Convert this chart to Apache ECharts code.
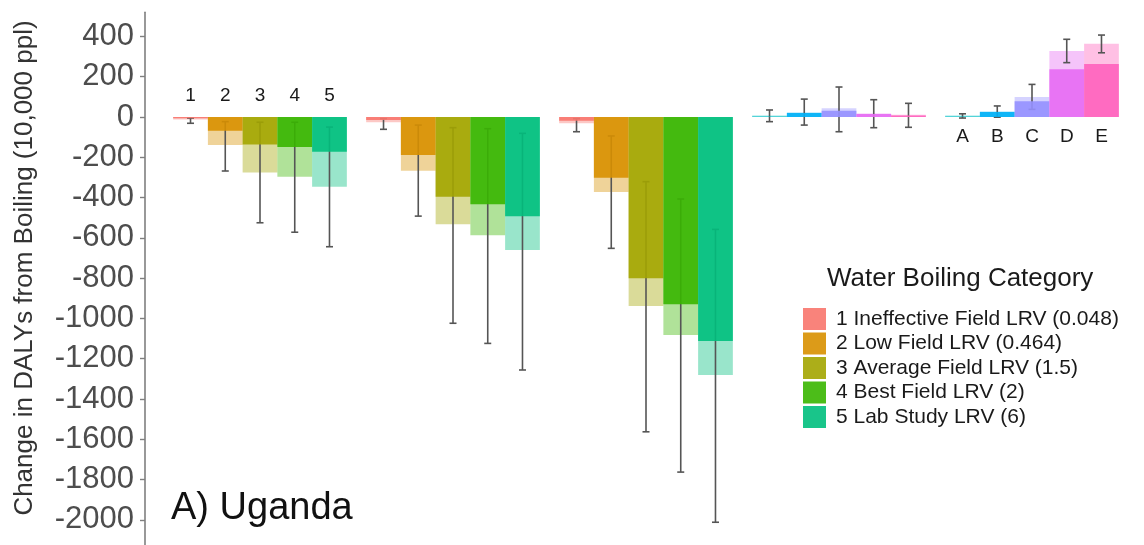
<!DOCTYPE html>
<html><head><meta charset="utf-8">
<script src="https://cdn.jsdelivr.net/npm/echarts@6/dist/echarts.min.js"></script>
<style>html,body{margin:0;padding:0;background:#fff}#c{width:1144px;height:545px}</style>
</head><body><div id="c"></div>
<script>
// ---- data ----
const scenarios = ['Scenario 1', 'Scenario 2', 'Scenario 3', 'Scenario 4', 'Scenario 5'];
const categoryNames = [
  '1 Ineffective Field LRV (0.048)',
  '2 Low Field LRV (0.464)',
  '3 Average Field LRV (1.5)',
  '4 Best Field LRV (2)',
  '5 Lab Study LRV (6)'
];
const topLabels = ['1', '2', '3', '4', '5'];
const bottomLabels = ['A', 'B', 'C', 'D', 'E'];
const yTicks = [-2000, -1800, -1600, -1400, -1200, -1000, -800, -600, -400, -200, 0, 200, 400];

// per bar position (1..5 / A..E), values for the 5 scenarios
const dark1 = [-6, -15, -18, 2, 2];
const light1 = [-12, -26, -31, 8, 8];
const errLo1 = [-31, -61, -73, -23, -5];
const errHi1 = [-5, -8, -8, 35, 16];

const dark2 = [-68, -189, -301, 20, 25];
const light2 = [-139, -267, -372, 23, 28];
const errLo2 = [-268, -492, -652, -40, -1];
const errHi2 = [-23, -40, -94, 89, 55];

const dark3 = [-136, -396, -801, 31, 78];
const light3 = [-275, -533, -938, 43, 99];
const errLo3 = [-525, -1024, -1563, -73, 38];
const errHi3 = [-26, -53, -321, 149, 162];

const dark4 = [-149, -433, -930, 15, 237];
const light4 = [-296, -587, -1082, 18, 328];
const errLo4 = [-572, -1124, -1763, -53, 270];
const errHi4 = [-26, -58, -407, 86, 386];

const dark5 = [-172, -493, -1112, 8, 263];
const light5 = [-346, -660, -1281, 11, 364];
const errLo5 = [-644, -1256, -2012, -51, 319];
const errHi5 = [-50, -81, -558, 68, 407];

const paletteBoiling = ['#F8766D', '#D89000', '#A3A500', '#39B600', '#00BF7D'];
const paletteAlt = ['#00BFC4', '#00B0F6', '#9590FF', '#E76BF3', '#FF62BC'];

// ---- build ----
const darkVals = [dark1, dark2, dark3, dark4, dark5];
const lightVals = [light1, light2, light3, light4, light5];
const errLo = [errLo1, errLo2, errLo3, errLo4, errLo5];
const errHi = [errHi1, errHi2, errHi3, errHi4, errHi5];
const FONT = "'Liberation Sans', Arial, Helvetica, sans-serif";
const N = 5;
const GAP = 0.10;
function colorFor(i, g) { return g < 3 ? paletteBoiling[i] : paletteAlt[i]; }

function barCenter(api, g, i) {
  const band = api.size([1, 0])[0];
  const bw = band * (1 - GAP) / N;
  return api.coord([g, 0])[0] - band * (1 - GAP) / 2 + bw * (i + 0.5);
}

const series = [];
for (let i = 0; i < N; i++) {
  series.push({
    type: 'bar', name: categoryNames[i] + ' upper', xAxisIndex: 0, yAxisIndex: 0,
    barGap: 0, barCategoryGap: (GAP * 100) + '%', z: 2, silent: true,
    itemStyle: { color: paletteBoiling[i], opacity: 0.4 },
    data: lightVals[i].map((v, g) => ({ value: v, itemStyle: { color: colorFor(i, g), opacity: 0.4 } }))
  });
}
for (let i = 0; i < N; i++) {
  series.push({
    type: 'bar', name: categoryNames[i], xAxisIndex: 1, yAxisIndex: 0,
    barGap: 0, barCategoryGap: (GAP * 100) + '%', z: 4, silent: true,
    itemStyle: { color: paletteBoiling[i], opacity: 0.9 },
    data: darkVals[i].map((v, g) => ({ value: v, itemStyle: { color: colorFor(i, g), opacity: 0.9 } }))
  });
}
const errData = [];
for (let i = 0; i < N; i++) for (let g = 0; g < scenarios.length; g++) errData.push([g, errLo[i][g], errHi[i][g], i]);
series.push({
  type: 'custom', name: 'error', xAxisIndex: 0, yAxisIndex: 0, z: 3, silent: true,
  encode: { x: 0, y: [1, 2] },
  data: errData,
  renderItem: function (params, api) {
    const g = api.value(0), lo = api.value(1), hi = api.value(2), i = api.value(3);
    const cx = barCenter(api, g, i);
    const y1 = api.coord([g, lo])[1], y2 = api.coord([g, hi])[1];
    const c = 3.5;
    const st = { stroke: '#555555', lineWidth: 1.6 };
    return { type: 'group', children: [
      { type: 'line', shape: { x1: cx, y1: y1, x2: cx, y2: y2 }, style: st },
      { type: 'line', shape: { x1: cx - c, y1: y1, x2: cx + c, y2: y1 }, style: st },
      { type: 'line', shape: { x1: cx - c, y1: y2, x2: cx + c, y2: y2 }, style: st }
    ]};
  }
});
const labData = [];
for (let i = 0; i < N; i++) labData.push([0, 0, i, 0]);
for (let i = 0; i < N; i++) labData.push([4, 0, i, 1]);
series.push({
  type: 'custom', name: 'labels', xAxisIndex: 0, yAxisIndex: 0, z: 5, silent: true,
  encode: { x: 0, y: 1 },
  data: labData,
  renderItem: function (params, api) {
    const g = api.value(0), i = api.value(2), below = api.value(3);
    const cx = barCenter(api, g, i);
    const y0 = api.coord([g, 0])[1];
    return { type: 'text', x: cx, y: below ? y0 + 20 : y0 - 21,
      style: { text: below ? bottomLabels[i] : topLabels[i], fontSize: 19, fontFamily: FONT,
        fill: '#1a1a1a', align: 'center', verticalAlign: 'middle' } };
  }
});

const option = {
  animation: false,
  backgroundColor: '#ffffff',
  grid: { left: 163.5, right: 15.5, top: 12.3, bottom: 0, containLabel: false },
  xAxis: [
    { type: 'category', data: scenarios, show: false },
    { type: 'category', data: scenarios, show: false }
  ],
  yAxis: {
    type: 'value', min: -2125, max: 520, offset: 18.5,
    axisLine: { show: true, lineStyle: { color: '#7f7f7f', width: 1.6 } },
    axisTick: { show: true, length: 5, customValues: yTicks, lineStyle: { color: '#7f7f7f', width: 1.4 } },
    axisLabel: { customValues: yTicks, fontSize: 31, fontFamily: FONT, color: '#4d4d4d', margin: 11,
      formatter: function (v) { return String(v); } },
    splitLine: { show: false }
  },
  legend: {
    data: categoryNames.map(n => ({ name: n })),
    orient: 'vertical', left: 798, top: 303, itemWidth: 23, itemHeight: 22, itemGap: 2.5,
    icon: 'rect', selectedMode: false,
    textStyle: { fontSize: 21, fontFamily: FONT, color: '#1a1a1a', padding: [0, 0, 0, 5], lineHeight: 22 }
  },
  graphic: [
    { type: 'text', x: 24.5, y: 268, rotation: Math.PI / 2,
      style: { text: 'Change in DALYs from Boiling (10,000 ppl)', fontSize: 26, fontFamily: FONT, fill: '#333333', align: 'center', verticalAlign: 'middle' } },
    { type: 'text', x: 827, y: 279,
      style: { text: 'Water Boiling Category', fontSize: 26, fontFamily: FONT, fill: '#1a1a1a', align: 'left', verticalAlign: 'middle' } },
    { type: 'text', x: 171, y: 509,
      style: { text: 'A) Uganda', fontSize: 38, fontFamily: FONT, fill: '#111111', align: 'left', verticalAlign: 'middle' } }
  ],
  series: series
};
const chart = echarts.init(document.getElementById('c'));
chart.setOption(option);
</script></body></html>
